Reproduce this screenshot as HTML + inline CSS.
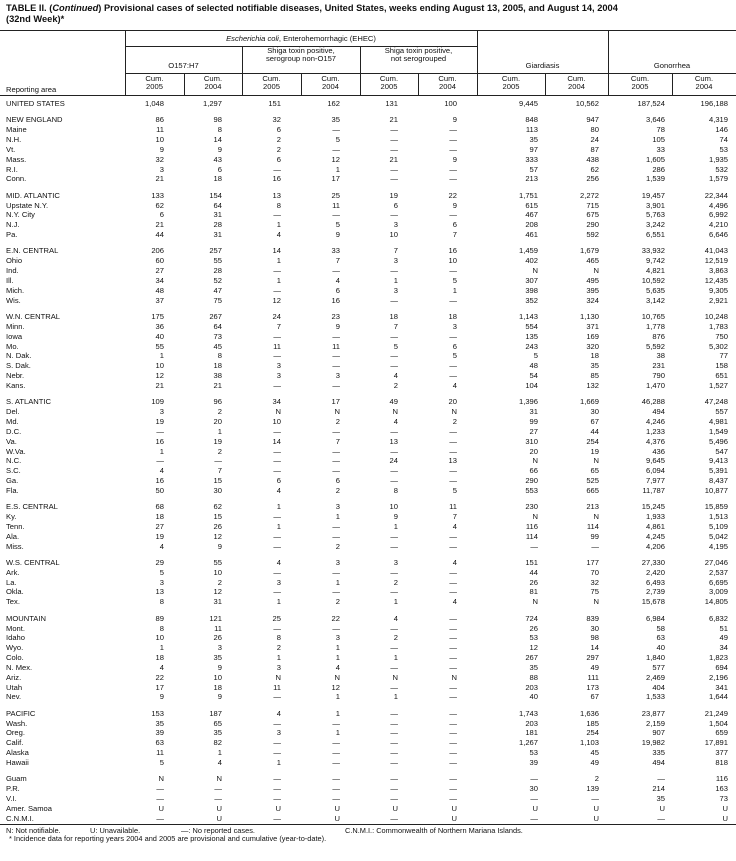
<!DOCTYPE html>
<html><head><meta charset="utf-8">
<style>
*{margin:0;padding:0;box-sizing:border-box}
body{width:736px;height:861px;background:#fff;position:relative;overflow:hidden;font-family:"Liberation Sans",Arial,sans-serif;color:#111}
.a{position:absolute;white-space:nowrap}
.t{font-weight:bold;font-size:9.3px;left:6px}
.h{font-size:7.6px;text-align:center;line-height:8.4px}
.hl{position:absolute;height:1px;background:#222}
.vl{position:absolute;width:1px;background:#222}
table{position:absolute;left:0;top:99px;width:736px;border-collapse:collapse;table-layout:fixed;font-size:7.6px}
td{padding:0;line-height:9.85px;text-align:right;white-space:nowrap;overflow:visible}
tr.r{height:9.85px}
tr.g{height:6.5px}
tr.g td{line-height:6.5px}
td:first-child{text-align:left;padding-left:6px}
td:nth-child(2),td:nth-child(3),td:nth-child(4),td:nth-child(5),td:nth-child(6),td:nth-child(7){padding-right:20px}
td:nth-child(8){padding-right:7px}
td:nth-child(9){padding-right:9px}
td:nth-child(10){padding-right:7px}
td:nth-child(11){padding-right:8px}
.f{font-size:7.4px}
</style></head><body>
<div class="a t" style="top:3px">TABLE II. (<i>Continued</i>) Provisional cases of selected notifiable diseases, United States, weeks ending August 13, 2005, and August 14, 2004</div>
<div class="a t" style="top:14px">(32nd Week)*</div>

<div class="hl" style="left:0;width:736px;top:30px"></div>
<div class="hl" style="left:125px;width:352px;top:46px"></div>
<div class="hl" style="left:125px;width:611px;top:73px"></div>
<div class="hl" style="left:0;width:736px;top:95px"></div>
<div class="vl" style="left:125px;top:30px;height:65px"></div>
<div class="vl" style="left:477px;top:30px;height:65px"></div>
<div class="vl" style="left:608px;top:30px;height:65px"></div>
<div class="vl" style="left:242px;top:46px;height:49px"></div>
<div class="vl" style="left:360px;top:46px;height:49px"></div>
<div class="vl" style="left:184px;top:73px;height:22px"></div>
<div class="vl" style="left:301px;top:73px;height:22px"></div>
<div class="vl" style="left:418px;top:73px;height:22px"></div>
<div class="vl" style="left:545px;top:73px;height:22px"></div>
<div class="vl" style="left:672px;top:73px;height:22px"></div>

<div class="a h" style="left:125px;width:352px;top:35px"><i>Escherichia coli</i>, Enterohemorrhagic (EHEC)</div>
<div class="a h" style="left:125px;width:117px;top:62px">O157:H7</div>
<div class="a h" style="left:242px;width:118px;top:47px">Shiga toxin positive,<br>serogroup non-O157</div>
<div class="a h" style="left:360px;width:117px;top:47px">Shiga toxin positive,<br>not serogrouped</div>
<div class="a h" style="left:477px;width:131px;top:62px">Giardiasis</div>
<div class="a h" style="left:608px;width:128px;top:62px">Gonorrhea</div>
<div class="a h" style="left:6px;top:86px;text-align:left">Reporting area</div>

<div class="a h" style="left:125px;width:59px;top:75px">Cum.<br>2005</div>
<div class="a h" style="left:184px;width:58px;top:75px">Cum.<br>2004</div>
<div class="a h" style="left:242px;width:59px;top:75px">Cum.<br>2005</div>
<div class="a h" style="left:301px;width:59px;top:75px">Cum.<br>2004</div>
<div class="a h" style="left:360px;width:58px;top:75px">Cum.<br>2005</div>
<div class="a h" style="left:418px;width:59px;top:75px">Cum.<br>2004</div>
<div class="a h" style="left:477px;width:68px;top:75px">Cum.<br>2005</div>
<div class="a h" style="left:545px;width:63px;top:75px">Cum.<br>2004</div>
<div class="a h" style="left:608px;width:64px;top:75px">Cum.<br>2005</div>
<div class="a h" style="left:672px;width:64px;top:75px">Cum.<br>2004</div>

<table>
<colgroup><col style="width:125px"><col style="width:59px"><col style="width:58px"><col style="width:59px"><col style="width:59px"><col style="width:58px"><col style="width:59px"><col style="width:68px"><col style="width:63px"><col style="width:64px"><col style="width:64px"></colgroup>
<tr class="r"><td>UNITED STATES</td><td>1,048</td><td>1,297</td><td>151</td><td>162</td><td>131</td><td>100</td><td>9,445</td><td>10,562</td><td>187,524</td><td>196,188</td></tr>
<tr class="g"><td colspan="11"></td></tr>
<tr class="r"><td>NEW ENGLAND</td><td>86</td><td>98</td><td>32</td><td>35</td><td>21</td><td>9</td><td>848</td><td>947</td><td>3,646</td><td>4,319</td></tr>
<tr class="r"><td>Maine</td><td>11</td><td>8</td><td>6</td><td>—</td><td>—</td><td>—</td><td>113</td><td>80</td><td>78</td><td>146</td></tr>
<tr class="r"><td>N.H.</td><td>10</td><td>14</td><td>2</td><td>5</td><td>—</td><td>—</td><td>35</td><td>24</td><td>105</td><td>74</td></tr>
<tr class="r"><td>Vt.</td><td>9</td><td>9</td><td>2</td><td>—</td><td>—</td><td>—</td><td>97</td><td>87</td><td>33</td><td>53</td></tr>
<tr class="r"><td>Mass.</td><td>32</td><td>43</td><td>6</td><td>12</td><td>21</td><td>9</td><td>333</td><td>438</td><td>1,605</td><td>1,935</td></tr>
<tr class="r"><td>R.I.</td><td>3</td><td>6</td><td>—</td><td>1</td><td>—</td><td>—</td><td>57</td><td>62</td><td>286</td><td>532</td></tr>
<tr class="r"><td>Conn.</td><td>21</td><td>18</td><td>16</td><td>17</td><td>—</td><td>—</td><td>213</td><td>256</td><td>1,539</td><td>1,579</td></tr>
<tr class="g"><td colspan="11"></td></tr>
<tr class="r"><td>MID. ATLANTIC</td><td>133</td><td>154</td><td>13</td><td>25</td><td>19</td><td>22</td><td>1,751</td><td>2,272</td><td>19,457</td><td>22,344</td></tr>
<tr class="r"><td>Upstate N.Y.</td><td>62</td><td>64</td><td>8</td><td>11</td><td>6</td><td>9</td><td>615</td><td>715</td><td>3,901</td><td>4,496</td></tr>
<tr class="r"><td>N.Y. City</td><td>6</td><td>31</td><td>—</td><td>—</td><td>—</td><td>—</td><td>467</td><td>675</td><td>5,763</td><td>6,992</td></tr>
<tr class="r"><td>N.J.</td><td>21</td><td>28</td><td>1</td><td>5</td><td>3</td><td>6</td><td>208</td><td>290</td><td>3,242</td><td>4,210</td></tr>
<tr class="r"><td>Pa.</td><td>44</td><td>31</td><td>4</td><td>9</td><td>10</td><td>7</td><td>461</td><td>592</td><td>6,551</td><td>6,646</td></tr>
<tr class="g"><td colspan="11"></td></tr>
<tr class="r"><td>E.N. CENTRAL</td><td>206</td><td>257</td><td>14</td><td>33</td><td>7</td><td>16</td><td>1,459</td><td>1,679</td><td>33,932</td><td>41,043</td></tr>
<tr class="r"><td>Ohio</td><td>60</td><td>55</td><td>1</td><td>7</td><td>3</td><td>10</td><td>402</td><td>465</td><td>9,742</td><td>12,519</td></tr>
<tr class="r"><td>Ind.</td><td>27</td><td>28</td><td>—</td><td>—</td><td>—</td><td>—</td><td>N</td><td>N</td><td>4,821</td><td>3,863</td></tr>
<tr class="r"><td>Ill.</td><td>34</td><td>52</td><td>1</td><td>4</td><td>1</td><td>5</td><td>307</td><td>495</td><td>10,592</td><td>12,435</td></tr>
<tr class="r"><td>Mich.</td><td>48</td><td>47</td><td>—</td><td>6</td><td>3</td><td>1</td><td>398</td><td>395</td><td>5,635</td><td>9,305</td></tr>
<tr class="r"><td>Wis.</td><td>37</td><td>75</td><td>12</td><td>16</td><td>—</td><td>—</td><td>352</td><td>324</td><td>3,142</td><td>2,921</td></tr>
<tr class="g"><td colspan="11"></td></tr>
<tr class="r"><td>W.N. CENTRAL</td><td>175</td><td>267</td><td>24</td><td>23</td><td>18</td><td>18</td><td>1,143</td><td>1,130</td><td>10,765</td><td>10,248</td></tr>
<tr class="r"><td>Minn.</td><td>36</td><td>64</td><td>7</td><td>9</td><td>7</td><td>3</td><td>554</td><td>371</td><td>1,778</td><td>1,783</td></tr>
<tr class="r"><td>Iowa</td><td>40</td><td>73</td><td>—</td><td>—</td><td>—</td><td>—</td><td>135</td><td>169</td><td>876</td><td>750</td></tr>
<tr class="r"><td>Mo.</td><td>55</td><td>45</td><td>11</td><td>11</td><td>5</td><td>6</td><td>243</td><td>320</td><td>5,592</td><td>5,302</td></tr>
<tr class="r"><td>N. Dak.</td><td>1</td><td>8</td><td>—</td><td>—</td><td>—</td><td>5</td><td>5</td><td>18</td><td>38</td><td>77</td></tr>
<tr class="r"><td>S. Dak.</td><td>10</td><td>18</td><td>3</td><td>—</td><td>—</td><td>—</td><td>48</td><td>35</td><td>231</td><td>158</td></tr>
<tr class="r"><td>Nebr.</td><td>12</td><td>38</td><td>3</td><td>3</td><td>4</td><td>—</td><td>54</td><td>85</td><td>790</td><td>651</td></tr>
<tr class="r"><td>Kans.</td><td>21</td><td>21</td><td>—</td><td>—</td><td>2</td><td>4</td><td>104</td><td>132</td><td>1,470</td><td>1,527</td></tr>
<tr class="g"><td colspan="11"></td></tr>
<tr class="r"><td>S. ATLANTIC</td><td>109</td><td>96</td><td>34</td><td>17</td><td>49</td><td>20</td><td>1,396</td><td>1,669</td><td>46,288</td><td>47,248</td></tr>
<tr class="r"><td>Del.</td><td>3</td><td>2</td><td>N</td><td>N</td><td>N</td><td>N</td><td>31</td><td>30</td><td>494</td><td>557</td></tr>
<tr class="r"><td>Md.</td><td>19</td><td>20</td><td>10</td><td>2</td><td>4</td><td>2</td><td>99</td><td>67</td><td>4,246</td><td>4,981</td></tr>
<tr class="r"><td>D.C.</td><td>—</td><td>1</td><td>—</td><td>—</td><td>—</td><td>—</td><td>27</td><td>44</td><td>1,233</td><td>1,549</td></tr>
<tr class="r"><td>Va.</td><td>16</td><td>19</td><td>14</td><td>7</td><td>13</td><td>—</td><td>310</td><td>254</td><td>4,376</td><td>5,496</td></tr>
<tr class="r"><td>W.Va.</td><td>1</td><td>2</td><td>—</td><td>—</td><td>—</td><td>—</td><td>20</td><td>19</td><td>436</td><td>547</td></tr>
<tr class="r"><td>N.C.</td><td>—</td><td>—</td><td>—</td><td>—</td><td>24</td><td>13</td><td>N</td><td>N</td><td>9,645</td><td>9,413</td></tr>
<tr class="r"><td>S.C.</td><td>4</td><td>7</td><td>—</td><td>—</td><td>—</td><td>—</td><td>66</td><td>65</td><td>6,094</td><td>5,391</td></tr>
<tr class="r"><td>Ga.</td><td>16</td><td>15</td><td>6</td><td>6</td><td>—</td><td>—</td><td>290</td><td>525</td><td>7,977</td><td>8,437</td></tr>
<tr class="r"><td>Fla.</td><td>50</td><td>30</td><td>4</td><td>2</td><td>8</td><td>5</td><td>553</td><td>665</td><td>11,787</td><td>10,877</td></tr>
<tr class="g"><td colspan="11"></td></tr>
<tr class="r"><td>E.S. CENTRAL</td><td>68</td><td>62</td><td>1</td><td>3</td><td>10</td><td>11</td><td>230</td><td>213</td><td>15,245</td><td>15,859</td></tr>
<tr class="r"><td>Ky.</td><td>18</td><td>15</td><td>—</td><td>1</td><td>9</td><td>7</td><td>N</td><td>N</td><td>1,933</td><td>1,513</td></tr>
<tr class="r"><td>Tenn.</td><td>27</td><td>26</td><td>1</td><td>—</td><td>1</td><td>4</td><td>116</td><td>114</td><td>4,861</td><td>5,109</td></tr>
<tr class="r"><td>Ala.</td><td>19</td><td>12</td><td>—</td><td>—</td><td>—</td><td>—</td><td>114</td><td>99</td><td>4,245</td><td>5,042</td></tr>
<tr class="r"><td>Miss.</td><td>4</td><td>9</td><td>—</td><td>2</td><td>—</td><td>—</td><td>—</td><td>—</td><td>4,206</td><td>4,195</td></tr>
<tr class="g"><td colspan="11"></td></tr>
<tr class="r"><td>W.S. CENTRAL</td><td>29</td><td>55</td><td>4</td><td>3</td><td>3</td><td>4</td><td>151</td><td>177</td><td>27,330</td><td>27,046</td></tr>
<tr class="r"><td>Ark.</td><td>5</td><td>10</td><td>—</td><td>—</td><td>—</td><td>—</td><td>44</td><td>70</td><td>2,420</td><td>2,537</td></tr>
<tr class="r"><td>La.</td><td>3</td><td>2</td><td>3</td><td>1</td><td>2</td><td>—</td><td>26</td><td>32</td><td>6,493</td><td>6,695</td></tr>
<tr class="r"><td>Okla.</td><td>13</td><td>12</td><td>—</td><td>—</td><td>—</td><td>—</td><td>81</td><td>75</td><td>2,739</td><td>3,009</td></tr>
<tr class="r"><td>Tex.</td><td>8</td><td>31</td><td>1</td><td>2</td><td>1</td><td>4</td><td>N</td><td>N</td><td>15,678</td><td>14,805</td></tr>
<tr class="g"><td colspan="11"></td></tr>
<tr class="r"><td>MOUNTAIN</td><td>89</td><td>121</td><td>25</td><td>22</td><td>4</td><td>—</td><td>724</td><td>839</td><td>6,984</td><td>6,832</td></tr>
<tr class="r"><td>Mont.</td><td>8</td><td>11</td><td>—</td><td>—</td><td>—</td><td>—</td><td>26</td><td>30</td><td>58</td><td>51</td></tr>
<tr class="r"><td>Idaho</td><td>10</td><td>26</td><td>8</td><td>3</td><td>2</td><td>—</td><td>53</td><td>98</td><td>63</td><td>49</td></tr>
<tr class="r"><td>Wyo.</td><td>1</td><td>3</td><td>2</td><td>1</td><td>—</td><td>—</td><td>12</td><td>14</td><td>40</td><td>34</td></tr>
<tr class="r"><td>Colo.</td><td>18</td><td>35</td><td>1</td><td>1</td><td>1</td><td>—</td><td>267</td><td>297</td><td>1,840</td><td>1,823</td></tr>
<tr class="r"><td>N. Mex.</td><td>4</td><td>9</td><td>3</td><td>4</td><td>—</td><td>—</td><td>35</td><td>49</td><td>577</td><td>694</td></tr>
<tr class="r"><td>Ariz.</td><td>22</td><td>10</td><td>N</td><td>N</td><td>N</td><td>N</td><td>88</td><td>111</td><td>2,469</td><td>2,196</td></tr>
<tr class="r"><td>Utah</td><td>17</td><td>18</td><td>11</td><td>12</td><td>—</td><td>—</td><td>203</td><td>173</td><td>404</td><td>341</td></tr>
<tr class="r"><td>Nev.</td><td>9</td><td>9</td><td>—</td><td>1</td><td>1</td><td>—</td><td>40</td><td>67</td><td>1,533</td><td>1,644</td></tr>
<tr class="g"><td colspan="11"></td></tr>
<tr class="r"><td>PACIFIC</td><td>153</td><td>187</td><td>4</td><td>1</td><td>—</td><td>—</td><td>1,743</td><td>1,636</td><td>23,877</td><td>21,249</td></tr>
<tr class="r"><td>Wash.</td><td>35</td><td>65</td><td>—</td><td>—</td><td>—</td><td>—</td><td>203</td><td>185</td><td>2,159</td><td>1,504</td></tr>
<tr class="r"><td>Oreg.</td><td>39</td><td>35</td><td>3</td><td>1</td><td>—</td><td>—</td><td>181</td><td>254</td><td>907</td><td>659</td></tr>
<tr class="r"><td>Calif.</td><td>63</td><td>82</td><td>—</td><td>—</td><td>—</td><td>—</td><td>1,267</td><td>1,103</td><td>19,982</td><td>17,891</td></tr>
<tr class="r"><td>Alaska</td><td>11</td><td>1</td><td>—</td><td>—</td><td>—</td><td>—</td><td>53</td><td>45</td><td>335</td><td>377</td></tr>
<tr class="r"><td>Hawaii</td><td>5</td><td>4</td><td>1</td><td>—</td><td>—</td><td>—</td><td>39</td><td>49</td><td>494</td><td>818</td></tr>
<tr class="g"><td colspan="11"></td></tr>
<tr class="r"><td>Guam</td><td>N</td><td>N</td><td>—</td><td>—</td><td>—</td><td>—</td><td>—</td><td>2</td><td>—</td><td>116</td></tr>
<tr class="r"><td>P.R.</td><td>—</td><td>—</td><td>—</td><td>—</td><td>—</td><td>—</td><td>30</td><td>139</td><td>214</td><td>163</td></tr>
<tr class="r"><td>V.I.</td><td>—</td><td>—</td><td>—</td><td>—</td><td>—</td><td>—</td><td>—</td><td>—</td><td>35</td><td>73</td></tr>
<tr class="r"><td>Amer. Samoa</td><td>U</td><td>U</td><td>U</td><td>U</td><td>U</td><td>U</td><td>U</td><td>U</td><td>U</td><td>U</td></tr>
<tr class="r"><td>C.N.M.I.</td><td>—</td><td>U</td><td>—</td><td>U</td><td>—</td><td>U</td><td>—</td><td>U</td><td>—</td><td>U</td></tr>
</table>

<div class="hl" style="left:0;width:736px;top:824px"></div>
<div class="a f" style="left:6px;top:826px">N: Not notifiable.</div>
<div class="a f" style="left:90px;top:826px">U: Unavailable.</div>
<div class="a f" style="left:181px;top:826px">—: No reported cases.</div>
<div class="a f" style="left:345px;top:826px">C.N.M.I.: Commonwealth of Northern Mariana Islands.</div>
<div class="a f" style="left:9px;top:834px">* Incidence data for reporting years 2004 and 2005 are provisional and cumulative (year-to-date).</div>
</body></html>
